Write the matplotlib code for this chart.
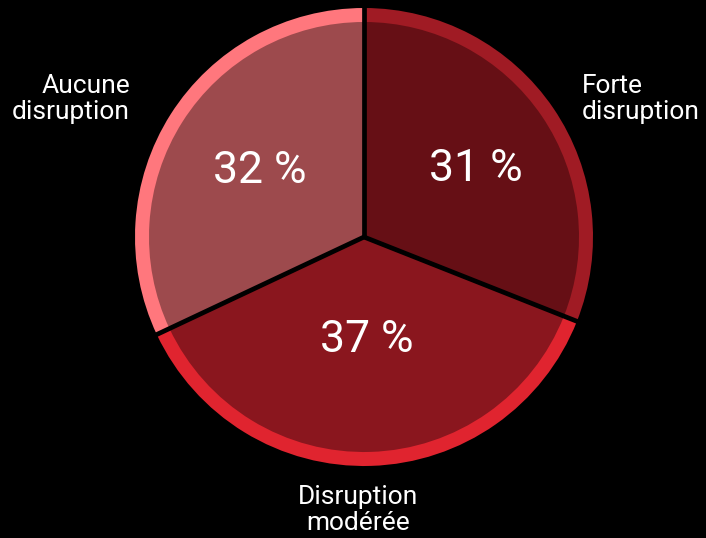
import numpy as np
import matplotlib.pyplot as plt

labels = ['Forte\ndisruption', 'Disruption\nmodérée', 'Aucune\ndisruption']
shares = [31, 37, 32]
inner_colors = ['#660f15', '#8a161e', '#9d4a4d']
ring_colors = ['#a01b24', '#e0242f', '#ff777d']

plt.rcParams['font.family'] = ['Roboto', 'DejaVu Sans']

W, H = 706, 538
fig = plt.figure(figsize=(W / 100, H / 100), dpi=100, facecolor='black')
ax = fig.add_axes([0, 0, 1, 1])
ax.set_facecolor('black')

cx, cy = 364, H - 237
R, r_in = 229, 215

# outer bright ring, then the darker fill on top of it
ax.pie(shares, radius=R, center=(cx, cy), colors=ring_colors,
       startangle=90, counterclock=False, frame=True,
       wedgeprops=dict(linewidth=0))
ax.pie(shares, radius=r_in, center=(cx, cy), colors=inner_colors,
       startangle=90, counterclock=False, frame=True,
       wedgeprops=dict(linewidth=0))
ax.set_xlim(0, W)
ax.set_ylim(0, H)
ax.set_aspect('equal')
ax.axis('off')

# black separators between slices
bounds = 90 - np.cumsum([0] + shares) * 3.6
for a in bounds[:-1]:
    t = np.deg2rad(a)
    ax.plot([cx, cx + (R + 2) * np.cos(t)], [cy, cy + (R + 2) * np.sin(t)],
            color='black', lw=3.4, solid_capstyle='butt')

# percentage labels inside the slices
pct_radius = [0.57, 0.45, 0.54]
pct_shift = [-3.0, 0.0, 0.0]
mids = (bounds[:-1] + bounds[1:]) / 2
for s, m, f, d in zip(shares, mids, pct_radius, pct_shift):
    t = np.deg2rad(m + d)
    ax.text(cx + f * R * np.cos(t), cy + f * R * np.sin(t), f'{s} %',
            color='white', fontsize=32, ha='center', va='center')

# category names outside
name_kw = dict(color='white', fontsize=19, va='center', linespacing=1.15)
ax.text(582, H - 99, labels[0], ha='left', **name_kw)
ax.text(358, H - 510, labels[1], ha='center', **name_kw)
ax.text(130, H - 99, labels[2], ha='right', **name_kw)

fig.savefig('out.png', dpi=100, facecolor='black')
